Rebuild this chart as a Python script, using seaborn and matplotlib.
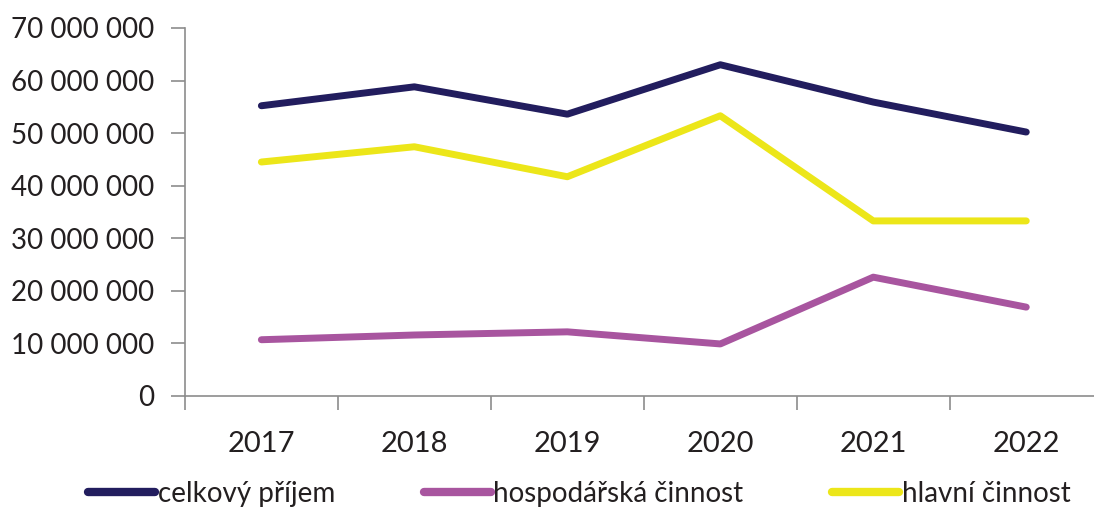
import matplotlib
matplotlib.use('Agg')
import matplotlib.pyplot as plt
import seaborn as sns
import pandas as pd
from matplotlib.ticker import FuncFormatter, FixedLocator

years = ['2017', '2018', '2019', '2020', '2021', '2022']
celkovy = [55.2e6, 58.8e6, 53.6e6, 63.0e6, 55.9e6, 50.2e6]
hospodarska = [10.7e6, 11.6e6, 12.2e6, 9.9e6, 22.6e6, 16.9e6]
hlavni = [44.5e6, 47.4e6, 41.7e6, 53.3e6, 33.3e6, 33.3e6]

series = ['celkový příjem', 'hospodářská činnost', 'hlavní činnost']
colors = ['#221d5e', '#a8559f', '#ece619']

df = pd.concat([
    pd.DataFrame({'rok': years, 'hodnota': vals, 'serie': name})
    for name, vals in zip(series, [celkovy, hospodarska, hlavni])
])

sns.set_style('white')
plt.rcParams['font.family'] = ['Lato', 'DejaVu Sans']

fig = plt.figure(figsize=(10.94, 5.08), dpi=100)
ax = fig.add_axes([0.169, 0.2205, 0.839, 0.7245])

sns.lineplot(data=df, x='rok', y='hodnota', hue='serie', hue_order=series,
             palette=colors, linewidth=5, ax=ax, sort=False,
             solid_capstyle='round')

ax.set_xlim(-0.5, 5.5)
ax.set_ylim(0, 70e6)
ax.set_yticks(range(0, 70000001, 10000000))
ax.yaxis.set_major_formatter(FuncFormatter(lambda v, p: f'{int(v):,}'.replace(',', ' ')))
ax.xaxis.set_minor_locator(FixedLocator([i - 0.5 for i in range(7)]))

for s in ['top', 'right']:
    ax.spines[s].set_visible(False)
for s in ['left', 'bottom']:
    ax.spines[s].set_color('#8c8c8c')
    ax.spines[s].set_linewidth(1.2)

ax.tick_params(axis='y', which='major', left=True, length=10, width=1.2, color='#8c8c8c',
               labelsize=20, labelcolor='#231f20', pad=12)
ax.tick_params(axis='x', which='major', bottom=False, labelsize=21, labelcolor='#231f20', pad=22)
ax.tick_params(axis='x', which='minor', bottom=True, length=10, width=1.2, color='#8c8c8c')

ax.set_xlabel('')
ax.set_ylabel('')

leg = ax.legend(loc='center', bbox_to_anchor=(0.43, -0.266), ncol=3, frameon=False,
                fontsize=20, handlelength=2.4, handletextpad=0.1, columnspacing=3.2,
                labelcolor='#231f20', borderaxespad=0, borderpad=0)
for line in leg.get_lines():
    line.set_linewidth(6)
    line.set_solid_capstyle('round')

fig.savefig('out.png', dpi=100)
